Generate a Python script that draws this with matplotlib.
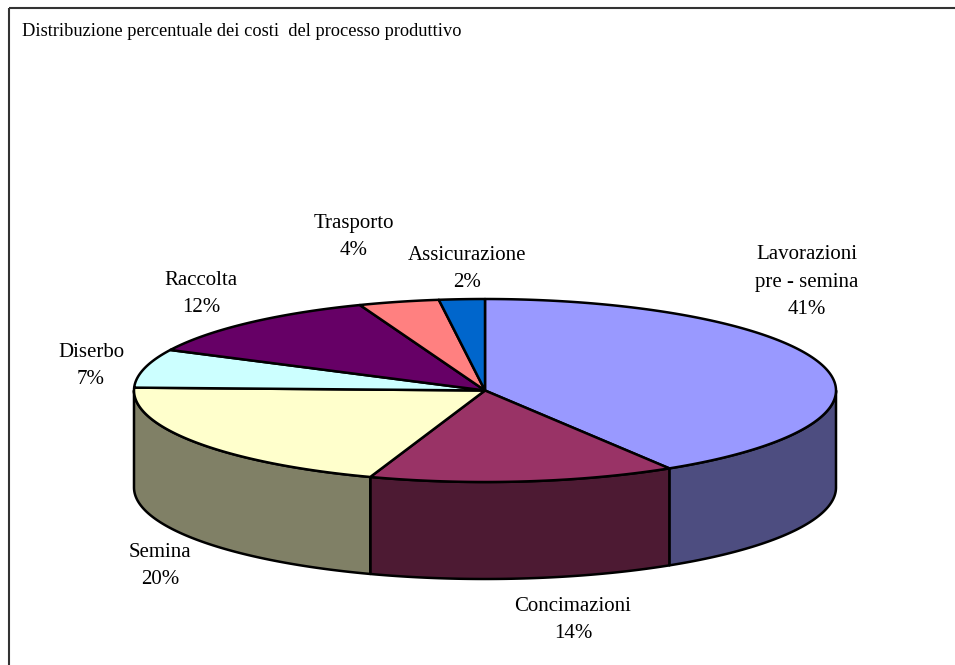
import numpy as np
import matplotlib
matplotlib.use("Agg")
import matplotlib.pyplot as plt
from matplotlib.patches import Polygon

title = "Distribuzione percentuale dei costi  del processo produttivo"
categories = ["Lavorazioni\npre - semina", "Concimazioni", "Semina", "Diserbo", "Raccolta", "Trasporto", "Assicurazione"]
values = [41.2, 14.1, 20.2, 6.8, 11.9, 3.7, 2.1]
top_colors = ["#9999FF", "#993366", "#FFFFCC", "#CCFFFF", "#660066", "#FF8080", "#0066CC"]
side_colors = ["#4D4D80", "#4D1A33", "#808066", "#668080", "#330033", "#804040", "#003366"]
label_pos = [(807, 282), (573, 620), (160, 566), (91, 366), (201, 294), (354, 237), (467, 269)]

plt.rcParams['font.family'] = ['Liberation Serif', 'DejaVu Serif']
fig = plt.figure(figsize=(9.55, 6.65), dpi=100)
ax = fig.add_axes([0, 0, 1, 1])
ax.set_xlim(0, 955)
ax.set_ylim(665, 0)
ax.axis("off")

cx, cy, rx, ry, depth = 485, 390.5, 351, 91.5, 97

def pt(t):
    return cx + rx * np.sin(t), cy - ry * np.cos(t)

edges = np.radians(np.concatenate([[0], np.cumsum(values)]) * 360.0 / sum(values))

# side walls: only the lower half of the ellipse is visible
for i in range(len(values)):
    a, b = max(edges[i], np.pi / 2), min(edges[i + 1], 3 * np.pi / 2)
    if a >= b:
        continue
    t = np.linspace(a, b, 120)
    x, y = pt(t)
    xy = np.r_[np.c_[x, y], np.c_[x, y + depth][::-1]]
    ax.add_patch(Polygon(xy, closed=True, fc=side_colors[i], ec="black", lw=1.8, joinstyle="round", zorder=2))

# top faces
for i in range(len(values)):
    t = np.linspace(edges[i], edges[i + 1], 200)
    x, y = pt(t)
    xy = np.r_[[[cx, cy]], np.c_[x, y]]
    ax.add_patch(Polygon(xy, closed=True, fc=top_colors[i], ec="black", lw=1.8, joinstyle="round", zorder=3))

for cat, v, (lx, ly) in zip(categories, values, label_pos):
    ax.text(lx, ly, f"{cat}\n{v:.0f}%", ha="center", va="center", fontsize=15, color="black", linespacing=1.6)

ax.text(22, 31, title, ha="left", va="center", fontsize=13.2, color="black")

# chart frame
ax.plot([9, 9], [665, 7.5], color="#333333", lw=1.5, solid_capstyle="butt", zorder=5)
ax.plot([9, 955], [7.5, 7.5], color="#333333", lw=1.5, solid_capstyle="butt", zorder=5)

fig.savefig("out.png", dpi=100, facecolor="white")
